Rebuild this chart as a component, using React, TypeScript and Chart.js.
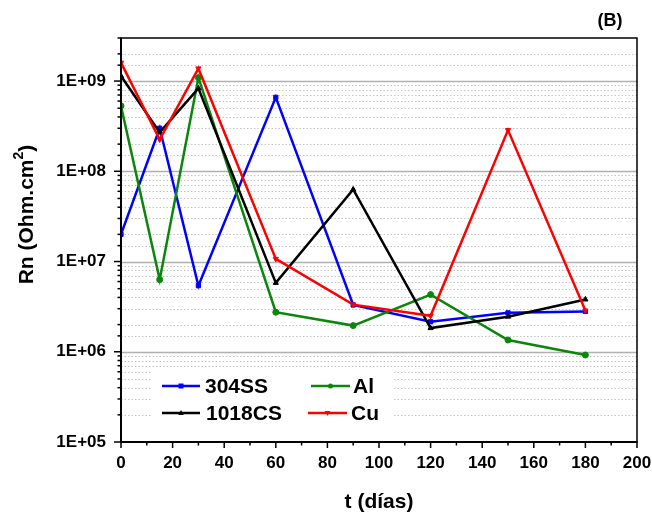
import React, { useEffect, useRef } from "react";
import { Chart, registerables } from "chart.js";

Chart.register(...registerables);

// ---- data ----
const days = [0, 15, 30, 60, 90, 120, 150, 180];
const ss304 = [2.0e7, 3.0e8, 5.4e6, 6.6e8, 3.3e6, 2.15e6, 2.7e6, 2.8e6];
const al = [5.3e8, 6.3e6, 1.09e9, 2.74e6, 1.95e6, 4.3e6, 1.35e6, 9.2e5];
const cs1018 = [1.14e9, 2.7e8, 8.3e8, 5.8e6, 6.3e7, 1.83e6, 2.45e6, 3.8e6];
const cu = [1.6e9, 2.25e8, 1.38e9, 1.07e7, 3.33e6, 2.5e6, 2.86e8, 2.86e6];

const seriesNames = ["304SS", "Al", "1018CS", "Cu"];
const seriesColors = ["#0000ff", "#0a860a", "#000000", "#ff0000"];
const seriesMarkers = ["rect", "circle", "triangle", "triangle"];
const seriesRotation = [0, 0, 0, 180];

const xMin = 0;
const xMax = 200;
const xStep = 20;
const yMin = 1e5;
const yMax = 3e9;

const xTitle = "t (días)";
const yTitleMain = "Rn (Ohm.cm";
const yTitleSup = "2";
const yTitleEnd = ")";
const panelLabel = "(B)";

const FONT = "'Liberation Sans', Arial, Helvetica, sans-serif";

const isPow10 = (v: number) => {
  const l = Math.log10(v);
  return Math.abs(l - Math.round(l)) < 1e-9;
};
const fmtExp = (v: number) => {
  const e = Math.round(Math.log10(v));
  return "1E+" + String(e).padStart(2, "0");
};

function drawMarker(ctx: CanvasRenderingContext2D, style: string, rot: number, x: number, y: number, r: number, color: string) {
  ctx.save();
  ctx.fillStyle = color;
  ctx.strokeStyle = color;
  ctx.translate(x, y);
  ctx.rotate((rot * Math.PI) / 180);
  ctx.beginPath();
  if (style === "rect") {
    ctx.rect(-r, -r, 2 * r, 2 * r);
  } else if (style === "circle") {
    ctx.arc(0, 0, r, 0, Math.PI * 2);
  } else {
    ctx.moveTo(0, -r * 1.2);
    ctx.lineTo(r * 1.1, r * 0.8);
    ctx.lineTo(-r * 1.1, r * 0.8);
    ctx.closePath();
  }
  ctx.fill();
  ctx.restore();
}

const decorPlugin = {
  id: "decor",
  beforeDatasetsDraw(chart: any) {
    const { ctx, chartArea: a, scales } = chart;
    const ys = scales.y;
    ctx.save();
    for (const t of ys.ticks) {
      const v = t.value;
      if (v <= yMin * 1.0001 || v >= yMax * 0.9999) continue;
      const py = Math.round(ys.getPixelForValue(v)) + 0.5;
      ctx.beginPath();
      if (isPow10(v)) {
        ctx.setLineDash([]);
        ctx.strokeStyle = "#b0b0b0";
        ctx.lineWidth = 1.5;
      } else {
        ctx.setLineDash([1.5, 2]);
        ctx.strokeStyle = "#c4c4c4";
        ctx.lineWidth = 1;
      }
      ctx.moveTo(a.left, py);
      ctx.lineTo(a.right, py);
      ctx.stroke();
    }
    ctx.restore();
  },
  afterDatasetsDraw(chart: any) {
    const { ctx, chartArea: a, scales } = chart;
    const ys = scales.y;
    const xs = scales.x;
    ctx.save();
    ctx.setLineDash([]);
    ctx.strokeStyle = "#000";
    // box
    ctx.lineWidth = 1.5;
    ctx.beginPath();
    ctx.moveTo(a.left, a.top);
    ctx.lineTo(a.right, a.top);
    ctx.lineTo(a.right, a.bottom);
    ctx.stroke();
    ctx.lineWidth = 2;
    ctx.beginPath();
    ctx.moveTo(a.left, a.top - 0.5);
    ctx.lineTo(a.left, a.bottom);
    ctx.lineTo(a.right + 0.5, a.bottom);
    ctx.stroke();
    // y ticks
    ctx.lineWidth = 1.5;
    for (const t of ys.ticks) {
      const v = t.value;
      const py = ys.getPixelForValue(v);
      const len = isPow10(v) ? 7 : 3.5;
      ctx.beginPath();
      ctx.moveTo(a.left - len, py);
      ctx.lineTo(a.left, py);
      ctx.stroke();
    }
    // x ticks
    for (let v = xMin; v <= xMax; v += xStep / 2) {
      const px = xs.getPixelForValue(v);
      const len = v % xStep === 0 ? 6 : 3.5;
      ctx.beginPath();
      ctx.moveTo(px, a.bottom);
      ctx.lineTo(px, a.bottom + len);
      ctx.stroke();
    }
    // legend
    ctx.fillStyle = "#fff";
    ctx.fillRect(152, 368, 240, 60);
    const entries = [
      { i: 0, x0: 162, x1: 200, y: 386, tx: 205 },
      { i: 1, x0: 311, x1: 350, y: 386, tx: 353 },
      { i: 2, x0: 162, x1: 200, y: 413, tx: 206 },
      { i: 3, x0: 308, x1: 347, y: 413, tx: 351 },
    ];
    ctx.font = "bold 21px " + FONT;
    ctx.textBaseline = "middle";
    ctx.textAlign = "left";
    for (const e of entries) {
      const c = seriesColors[e.i];
      ctx.strokeStyle = c;
      ctx.lineWidth = 2.5;
      ctx.beginPath();
      ctx.moveTo(e.x0, e.y);
      ctx.lineTo(e.x1, e.y);
      ctx.stroke();
      drawMarker(ctx, seriesMarkers[e.i], seriesRotation[e.i], (e.x0 + e.x1) / 2, e.y, 2.5, c);
      ctx.fillStyle = "#000";
      ctx.fillText(seriesNames[e.i], e.tx, e.y + 1);
    }
    ctx.restore();
  },
  afterDraw(chart: any) {
    const { ctx, chartArea: a } = chart;
    ctx.save();
    ctx.fillStyle = "#000";
    // x title
    ctx.font = "bold 21px " + FONT;
    ctx.textAlign = "center";
    ctx.textBaseline = "middle";
    ctx.fillText(xTitle, (a.left + a.right) / 2, 502);
    // panel label
    ctx.font = "bold 18px " + FONT;
    ctx.fillText(panelLabel, 610, 21);
    // y title
    ctx.translate(27, 214.5);
    ctx.rotate(-Math.PI / 2);
    ctx.font = "bold 21px " + FONT;
    const w1 = ctx.measureText(yTitleMain).width;
    const w3 = ctx.measureText(yTitleEnd).width;
    ctx.font = "bold 14px " + FONT;
    const w2 = ctx.measureText(yTitleSup).width;
    const W = w1 + w2 + w3;
    let x0 = -W / 2;
    ctx.textAlign = "left";
    ctx.font = "bold 21px " + FONT;
    ctx.fillText(yTitleMain, x0, 0);
    ctx.font = "bold 14px " + FONT;
    ctx.fillText(yTitleSup, x0 + w1, -8);
    ctx.font = "bold 21px " + FONT;
    ctx.fillText(yTitleEnd, x0 + w1 + w2, 0);
    ctx.restore();
  },
};

export default function App() {
  const ref = useRef<HTMLCanvasElement | null>(null);
  useEffect(() => {
    document.body.style.margin = "0";
    const canvas = ref.current;
    if (!canvas) return;
    const seriesData = [ss304, al, cs1018, cu];
    const orders = [3, 2, 1, 0];
    const chart = new Chart(canvas, {
      type: "line",
      data: {
        datasets: seriesData.map((arr, i) => ({
          label: seriesNames[i],
          data: days.map((d, j) => ({ x: d, y: arr[j] })),
          borderColor: seriesColors[i],
          backgroundColor: seriesColors[i],
          borderWidth: 2.5,
          pointStyle: seriesMarkers[i] as any,
          rotation: seriesRotation[i],
          pointRadius: 3,
          pointHoverRadius: 3,
          pointBackgroundColor: seriesColors[i],
          pointBorderColor: seriesColors[i],
          pointBorderWidth: 1,
          tension: 0,
          fill: false,
          order: orders[i],
        })),
      },
      options: {
        animation: false,
        responsive: false,
        events: [],
        layout: { padding: { left: 0, top: 38, right: 15, bottom: 0 } },
        plugins: {
          legend: { display: false },
          title: { display: false },
          tooltip: { enabled: false },
        },
        scales: {
          x: {
            type: "linear",
            min: xMin,
            max: xMax,
            grid: { display: false, drawTicks: false },
            border: { display: false },
            ticks: {
              stepSize: xStep,
              autoSkip: false,
              maxRotation: 0,
              padding: 11,
              color: "#000",
              font: { family: FONT, size: 17, weight: "bold" },
            },
            afterFit: (s: any) => {
              s.height = 77;
              s.paddingLeft = 0;
              s.paddingRight = 0;
            },
          },
          y: {
            type: "logarithmic",
            min: yMin,
            max: yMax,
            grid: { display: false, drawTicks: false },
            border: { display: false },
            ticks: {
              autoSkip: false,
              padding: 15,
              color: "#000",
              font: { family: FONT, size: 17, weight: "bold" },
              callback: (v: any) => (isPow10(Number(v)) ? fmtExp(Number(v)) : ""),
            },
            afterFit: (s: any) => {
              s.width = 121;
              s.paddingTop = 0;
              s.paddingBottom = 0;
            },
          },
        },
      },
      plugins: [decorPlugin],
    });
    return () => chart.destroy();
  }, []);
  return <canvas ref={ref} width={652} height={519} style={{ display: "block" }} />;
}
